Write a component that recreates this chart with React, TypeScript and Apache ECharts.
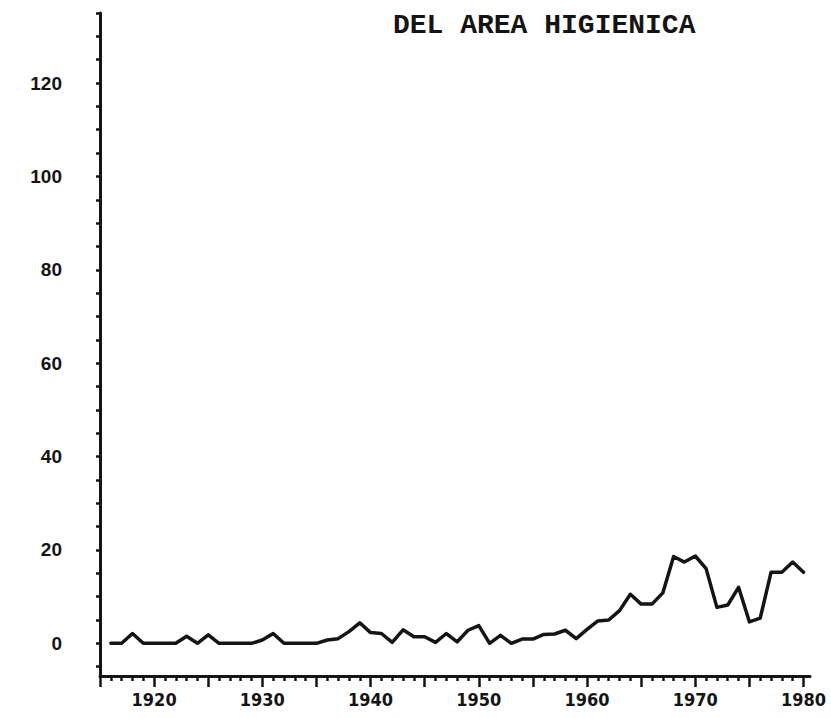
import React, { useEffect, useRef } from "react";
import * as echarts from "echarts";

const years = [
  1916, 1917, 1918, 1919, 1920, 1921, 1922, 1923, 1924, 1925, 1926, 1927, 1928,
  1929, 1930, 1931, 1932, 1933, 1934, 1935, 1936, 1937, 1938, 1939, 1940, 1941,
  1942, 1943, 1944, 1945, 1946, 1947, 1948, 1949, 1950, 1951, 1952, 1953, 1954,
  1955, 1956, 1957, 1958, 1959, 1960, 1961, 1962, 1963, 1964, 1965, 1966, 1967,
  1968, 1969, 1970, 1971, 1972, 1973, 1974, 1975, 1976, 1977, 1978, 1979, 1980,
];

const values = [
  0, 0, 2.1, 0, 0, 0, 0, 1.5, 0, 1.8, 0, 0, 0,
  0, 0.7, 2.1, 0, 0, 0, 0, 0.7, 1.0, 2.5, 4.4, 2.3, 2.1,
  0.2, 2.9, 1.4, 1.4, 0.2, 2.1, 0.3, 2.8, 3.8, 0, 1.7, 0, 0.9,
  0.9, 1.9, 2.0, 2.8, 1.0, 3.0, 4.8, 5.0, 7.0, 10.5, 8.4, 8.4, 10.8,
  18.6, 17.4, 18.7, 16.0, 7.7, 8.2, 12.0, 4.6, 5.4, 15.2, 15.2, 17.4, 15.2,
];

const xLabelValues = [1920, 1930, 1940, 1950, 1960, 1970, 1980];
const xMajorTicks = [1915, 1920, 1925, 1930, 1935, 1940, 1945, 1950, 1955, 1960, 1965, 1970, 1975, 1980];
const xMinorTicks = [
  1916, 1917, 1918, 1919, 1921, 1922, 1923, 1924, 1926, 1927, 1928, 1929,
  1931, 1932, 1933, 1934, 1936, 1937, 1938, 1939, 1941, 1942, 1943, 1944,
  1946, 1947, 1948, 1949, 1951, 1952, 1953, 1954, 1956, 1957, 1958, 1959,
  1961, 1962, 1963, 1964, 1966, 1967, 1968, 1969, 1971, 1972, 1973, 1974,
  1976, 1977, 1978, 1979,
];
const yLabelValues = [0, 20, 40, 60, 80, 100, 120];
const yTickValues = [
  -5, 0, 5, 10, 15, 20, 25, 30, 35, 40, 45, 50, 55, 60, 65, 70, 75, 80, 85,
  90, 95, 100, 105, 110, 115, 120, 125, 130, 135,
];

const titleText = "DEL AREA HIGIENICA";
const INK = "#141414";

export default function App() {
  const ref = useRef<HTMLDivElement>(null);

  useEffect(() => {
    if (!ref.current) return;
    const chart = echarts.init(ref.current, null, { renderer: "svg" });
    const option: any = {
      animation: false,
      backgroundColor: "#ffffff",
      title: {
        text: titleText,
        left: 393,
        top: 11,
        padding: 0,
        textStyle: {
          fontFamily: "'Liberation Mono', 'Courier New', monospace",
          fontWeight: "bold",
          fontSize: 28,
          color: INK,
        },
      },
      grid: {
        left: 100,
        right: 21,
        top: 13,
        bottom: 42,
        containLabel: false,
        outerBoundsMode: "none",
      },
      xAxis: [
        {
          type: "value",
          position: "bottom",
          min: 1915,
          max: 1980.6,
          axisLine: { show: true, onZero: false, lineStyle: { color: INK, width: 3 } },
          axisTick: {
            show: true,
            customValues: xMajorTicks,
            length: 11,
            lineStyle: { color: INK, width: 2.5 },
          },
          axisLabel: {
            show: true,
            customValues: xLabelValues,
            margin: 14,
            color: INK,
            fontFamily: "'DejaVu Sans Condensed', 'Liberation Sans', sans-serif",
            fontWeight: "bold",
            fontSize: 18,
            formatter: (v: number) => (v % 10 === 0 ? String(v) : ""),
          },
          splitLine: { show: false },
        },
        {
          type: "value",
          position: "bottom",
          min: 1915,
          max: 1980.6,
          axisLine: { show: false, onZero: false },
          axisTick: {
            show: true,
            customValues: xMinorTicks,
            length: 5,
            lineStyle: { color: INK, width: 2.5 },
          },
          axisLabel: { show: false },
          splitLine: { show: false },
        },
      ],
      yAxis: {
        type: "value",
        min: -7,
        max: 135,
        axisLine: { show: true, onZero: false, lineStyle: { color: INK, width: 3 } },
        axisTick: {
          show: true,
          customValues: yTickValues,
          length: 4,
          lineStyle: { color: INK, width: 2.5 },
        },
        axisLabel: {
          show: true,
          customValues: yLabelValues,
          margin: 38,
          color: INK,
          fontFamily: "'Liberation Sans', Arial, sans-serif",
          fontWeight: "bold",
          fontSize: 19,
        },
        splitLine: { show: false },
      },
      series: [
        {
          type: "line",
          xAxisIndex: 0,
          yAxisIndex: 0,
          data: years.map((y, i) => [y, values[i]]),
          showSymbol: false,
          symbol: "none",
          lineStyle: { color: INK, width: 3.5, join: "round", cap: "round" },
        },
      ],
    };
    chart.setOption(option);
    return () => chart.dispose();
  }, []);

  return (
    <div
      ref={ref}
      style={{ position: "absolute", left: 0, top: 0, width: 831, height: 718, background: "#ffffff" }}
    />
  );
}
